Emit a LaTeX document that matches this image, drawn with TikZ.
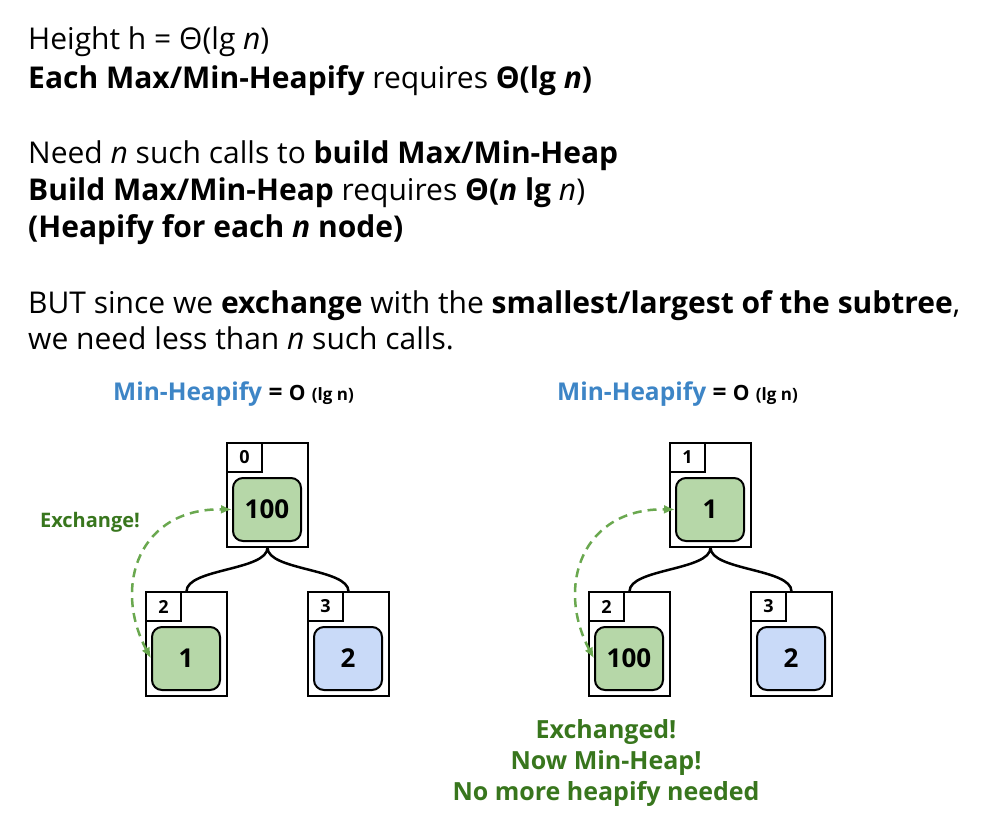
\documentclass[tikz,border=0pt]{standalone}
\usepackage{fontspec}
\setmainfont{Open Sans}
\usetikzlibrary{arrows.meta}
\definecolor{gfill}{HTML}{B6D7A8}
\definecolor{bfill}{HTML}{C9DAF8}
\definecolor{garrow}{HTML}{6AA84F}
\definecolor{gtext}{HTML}{38761D}
\definecolor{btext}{HTML}{3D85C6}
\newcommand\heapcell[6]{%
  \node[outerbox] (#1o) at (#2,#3+52) {};
  \node[idxbox] (#1i) at (#2-23,#3+14.5) {#4};
  \node[valbox,fill=#6] (#1v) at (#2-0.5,#3+66.5) {#5};
}
\begin{document}
\begin{tikzpicture}[x=1pt,y=-1pt,
  maintext/.style={anchor=base west,inner sep=0pt,font=\fontsize{30}{37}\selectfont},
  outerbox/.style={draw,line width=1.2pt,minimum width=81pt,minimum height=104pt,inner sep=0pt},
  idxbox/.style={draw,line width=1.2pt,minimum width=35pt,minimum height=29pt,inner sep=0pt,font=\fontsize{18}{18}\selectfont\bfseries},
  valbox/.style={draw,line width=2pt,rounded corners=10pt,minimum width=68pt,minimum height=63pt,inner sep=0pt,font=\fontsize{26}{26}\selectfont\bfseries},
  link/.style={line width=2.5pt},
  swap/.style={garrow,line width=2.5pt,dash pattern=on 9pt off 6pt,{Latex[length=11pt,width=9pt]}-{Latex[length=11pt,width=9pt]}},
  title/.style={anchor=base west,inner sep=0pt,font=\fontsize{24.5}{24.5}\selectfont\bfseries},
  note/.style={inner sep=0pt,text=gtext,font=\fontsize{20}{31}\selectfont\bfseries,align=center}]
\useasboundingbox (0,0) rectangle (990,839);
% main text
\node[maintext] (t1) at (28,49) {Height h = Θ(lg \textit{n})};
\node[maintext] (t2) at (28,88) {\textbf{Each Max/Min-Heapify} requires \textbf{Θ(lg \textit{n})}};
\node[maintext] (t3) at (28,163) {Need \textit{n} such calls to \textbf{build Max/Min-Heap}};
\node[maintext] (t4) at (28,200) {\textbf{Build Max/Min-Heap} requires \textbf{Θ(\textit{n} lg} \textit{n})};
\node[maintext] (t5) at (28,237) {\textbf{(Heapify for each \textit{n} node)}};
\node[maintext] (t6) at (28,313) {BUT since we \textbf{exchange} with the \textbf{smallest/largest of the subtree},};
\node[maintext] (t7) at (28,349) {we need less than \textit{n} such calls.};
% titles
\node[title] (h1) at (113,400) {\textcolor{btext}{Min-Heapify} = {\fontsize{21}{21}\selectfont O} {\fontsize{17}{17}\selectfont (lg n)}};
\node[title] (h2) at (557,400) {\textcolor{btext}{Min-Heapify} = {\fontsize{21}{21}\selectfont O} {\fontsize{17}{17}\selectfont (lg n)}};
% left tree
\heapcell{a}{267.5}{443}{0}{100}{gfill}
\heapcell{b}{186.5}{592}{2}{1}{gfill}
\heapcell{c}{348.5}{592}{3}{2}{bfill}
\draw[link] (ao.south) .. controls +(0,23) and +(0,-23) .. (bo.north);
\draw[link] (ao.south) .. controls +(0,23) and +(0,-23) .. (co.north);
\draw[swap] (bv.west) .. controls (112,585) and (140,508) .. (av.west);
\node[note] (ex) at (90,522) {Exchange!};
% right tree
\heapcell{d}{710.5}{443}{1}{1}{gfill}
\heapcell{e}{629.5}{592}{2}{100}{gfill}
\heapcell{f}{791.5}{592}{3}{2}{bfill}
\draw[link] (do.south) .. controls +(0,23) and +(0,-23) .. (eo.north);
\draw[link] (do.south) .. controls +(0,23) and +(0,-23) .. (fo.north);
\draw[swap] (ev.west) .. controls (555,585) and (583,508) .. (dv.west);
\node[note,font=\fontsize{25}{31}\selectfont\bfseries] (msg) at (606,763) {Exchanged!\\Now Min-Heap!\\No more heapify needed};
\end{tikzpicture}
\end{document}
